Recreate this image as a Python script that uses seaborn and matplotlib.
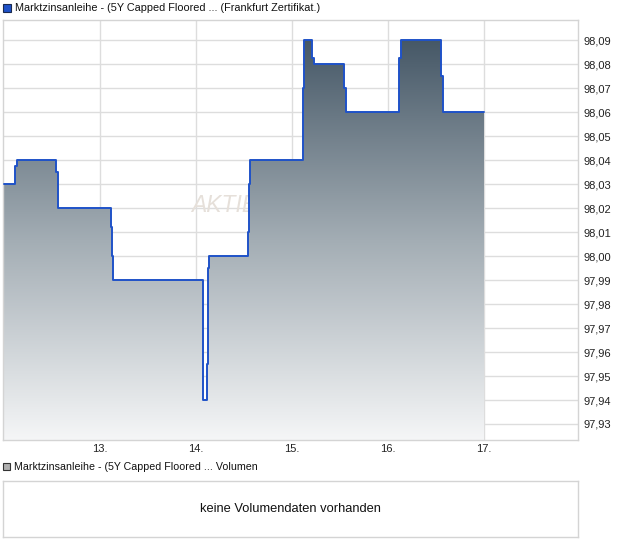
import numpy as np
import pandas as pd
import matplotlib
matplotlib.use("Agg")
import matplotlib.pyplot as plt
import seaborn as sns
from matplotlib.colors import LinearSegmentedColormap
from matplotlib.patches import Rectangle

# Kursverlauf: Zeit als Tag im Monat (Nachkommastelle = Uhrzeit), Kurs in Prozent
zeit = [12.00, 12.115, 12.135, 12.54, 12.5625, 13.115, 13.125, 13.135,
        14.07, 14.075, 14.115, 14.125, 14.13, 14.135,
        14.54, 14.55, 14.5625, 15.115, 15.125, 15.21, 15.23,
        15.54, 15.5625, 16.115, 16.135, 16.55, 16.57, 17.00]
kurs = [98.03, 98.0375, 98.04, 98.035, 98.02, 98.012, 98.00, 97.99,
        97.965, 97.94, 97.955, 97.985, 97.995, 98.00,
        98.01, 98.03, 98.04, 98.07, 98.09, 98.0825, 98.08,
        98.07, 98.06, 98.0825, 98.09, 98.075, 98.06, 98.06]

tage = [13, 14, 15, 16, 17]
tag_labels = ["13.", "14.", "15.", "16.", "17."]
kurs_ticks = [97.93, 97.94, 97.95, 97.96, 97.97, 97.98, 97.99, 98.00,
              98.01, 98.02, 98.03, 98.04, 98.05, 98.06, 98.07, 98.08, 98.09]
kurs_labels = [f"{v:.2f}".replace(".", ",") for v in kurs_ticks]

titel = "Marktzinsanleihe - (5Y Capped Floored ... (Frankfurt Zertifikat.)"
titel_vol = "Marktzinsanleihe - (5Y Capped Floored ... Volumen"
hinweis = "keine Volumendaten vorhanden"

df = pd.DataFrame({"zeit": zeit, "kurs": kurs})

sns.set_style("white")
plt.rcParams["font.family"] = ["Liberation Sans", "DejaVu Sans"]

W, H = 620, 546
fig = plt.figure(figsize=(W / 100, H / 100), dpi=100)


def box(x0, y0, x1, y1):
    # Pixelkoordinaten -> Figurkoordinaten
    return [x0 / W, 1 - y1 / H, (x1 - x0) / W, (y1 - y0) / H]


ax = fig.add_axes(box(3, 20, 578, 440))
xmin, xmax = 13 - 97 / 96, 13 + 478 / 96
ymin, ymax = 98.09 - 400 / 2400, 98.09 + 20 / 2400

# Wasserzeichen hinter der Fläche
ax.text(13.95, 98.021, "AKTIENCHECK", fontsize=16.5, style="italic",
        color="#e6e0da", ha="left", va="center", zorder=1)

# Fläche mit Farbverlauf
poly = ax.fill_between(df["zeit"], df["kurs"], ymin, step="post",
                       color="none", lw=0, zorder=2)
cmap = LinearSegmentedColormap.from_list("verlauf", ["#465867", "#a3adb4", "#f5f6f7"])
grad = ax.imshow(np.linspace(0, 1, 256).reshape(-1, 1), cmap=cmap, aspect="auto",
                 extent=[xmin, xmax, ymin, max(kurs)], origin="upper", zorder=2)
grad.set_clip_path(poly.get_paths()[0], transform=ax.transData)

sns.lineplot(data=df, x="zeit", y="kurs", drawstyle="steps-post", estimator=None,
             color="#1f52c8", lw=1.4, ax=ax, zorder=3)

ax.set_xlim(xmin, xmax)
ax.set_ylim(ymin, ymax)
ax.set_xticks(tage)
ax.set_xticklabels(tag_labels)
ax.set_yticks(kurs_ticks)
ax.set_yticklabels(kurs_labels)
ax.yaxis.tick_right()
ax.tick_params(axis="both", length=0, labelsize=8, colors="#222222")
ax.tick_params(axis="x", pad=3)
ax.tick_params(axis="y", pad=4)
ax.grid(True, color="#dddddd", lw=1, zorder=0)
ax.set_axisbelow(True)
ax.set_xlabel("")
ax.set_ylabel("")
for s in ax.spines.values():
    s.set_color("#d4d4d4")
    s.set_linewidth(1)

# Legende oben
fig.patches.append(Rectangle((3 / W, 1 - 12 / H), 8 / W, 8 / H, transform=fig.transFigure,
                             facecolor="#1f52c8", edgecolor="#1a2a50", lw=0.8))
fig.text(15 / W, 1 - 8 / H, titel, fontsize=7.85, va="center", ha="left", color="#111111")

# Volumen-Panel
ax2 = fig.add_axes(box(3, 481, 578, 537))
ax2.set_xticks([])
ax2.set_yticks([])
for s in ax2.spines.values():
    s.set_color("#d4d4d4")
    s.set_linewidth(1)
ax2.text(0.5, 0.5, hinweis, transform=ax2.transAxes, ha="center", va="center",
         fontsize=9.3, color="#111111")

fig.patches.append(Rectangle((3 / W, 1 - 470 / H), 7 / W, 7 / H, transform=fig.transFigure,
                             facecolor="#b0b0b0", edgecolor="#333333", lw=0.8))
fig.text(14 / W, 1 - 466.5 / H, titel_vol, fontsize=7.7, va="center", ha="left", color="#111111")

fig.savefig("out.png", dpi=100)
